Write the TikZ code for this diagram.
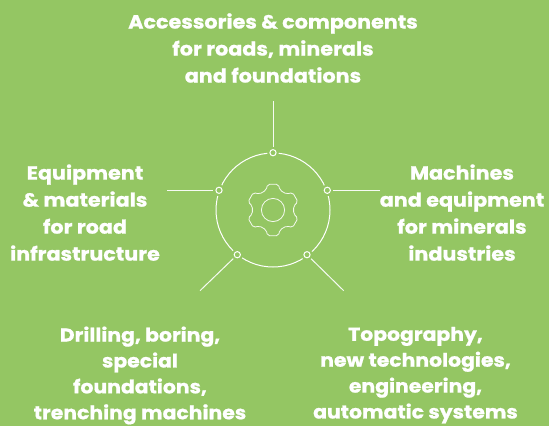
\documentclass[tikz,border=0pt]{standalone}
\usepackage{fontspec}
\setmainfont{Poppins}[FakeStretch=1.09,BoldFeatures={FakeBold=0.9}]
\definecolor{bggreen}{HTML}{94C663}
\tikzset{
  label text/.style={text=white,font=\fontsize{19}{27}\selectfont\bfseries,align=center,inner sep=0pt},
  low text/.style={label text,font=\fontsize{18.7}{25.9}\selectfont\bfseries},
  spoke/.style={draw=white!92!bggreen,line width=1pt},
  ring/.style={draw=white,line width=1pt},
  cog/.style={draw=white!90!bggreen,line width=.8pt},
  port/.style={circle,draw=white,line width=1pt,fill=bggreen,minimum size=6.2pt,inner sep=0pt,outer sep=2.6pt},
  halo/.style={circle,fill=bggreen,minimum size=11.5pt,inner sep=0pt}
}
\begin{document}
\begin{tikzpicture}[x=1pt,y=-1pt]
\path[use as bounding box,fill=bggreen] (0,0) rectangle (549,426);
% ring
\coordinate (c) at (273,210);
\draw[ring] (c) circle (57);
% halos and ports
\foreach \p in {(273,152.7),(327.3,190.3),(219,190.3),(237.3,254.7),(307,254.7)}
  \node[halo] at \p {};
\node[port] (ptop) at (273,152.7) {};
\node[port] (pright) at (327.3,190.3) {};
\node[port] (pleft) at (219,190.3) {};
\node[port] (pbl) at (237.3,254.7) {};
\node[port] (pbr) at (307,254.7) {};
% free ends
\coordinate (etop) at (273,101);
\coordinate (eright) at (380,190.3);
\coordinate (eleft) at (167,190.3);
\coordinate (ebl) at (200,290.7);
\coordinate (ebr) at (343.7,290.7);
\draw[spoke] (etop) -- (ptop);
\draw[spoke] (eright) -- (pright);
\draw[spoke] (eleft) -- (pleft);
\draw[spoke] (ebl) -- (pbl);
\draw[spoke] (ebr) -- (pbr);
% gear
\draw[cog] (c) circle (11.6);
\draw[cog,rounded corners=2pt,shift={(273,210)}]
  (71:21) -- (78:26.3) -- (102:26.3) -- (109:21)
  -- (131:21) -- (138:26.3) -- (162:26.3) -- (169:21)
  -- (191:21) -- (198:26.3) -- (222:26.3) -- (229:21)
  -- (251:21) -- (258:26.3) -- (282:26.3) -- (289:21)
  -- (311:21) -- (318:26.3) -- (342:26.3) -- (349:21)
  -- (11:21) -- (18:26.3) -- (42:26.3) -- (49:21) -- cycle;
% labels
\node[label text] (ltop) at (273,48) {Accessories \& components\\for roads, minerals\\and foundations};
\node[label text] (lleft) at (85,212.6) {Equipment\\\& materials\\for road\\infrastructure};
\node[label text] (lright) at (462,212.6) {Machines\\and equipment\\for minerals\\industries};
\node[low text] (lbl) at (140,375.5) {Drilling, boring,\\special\\foundations,\\trenching machines};
\node[low text] (lbr) at (415.5,375.2) {Topography,\\new technologies,\\engineering,\\automatic systems};
\end{tikzpicture}
\end{document}
